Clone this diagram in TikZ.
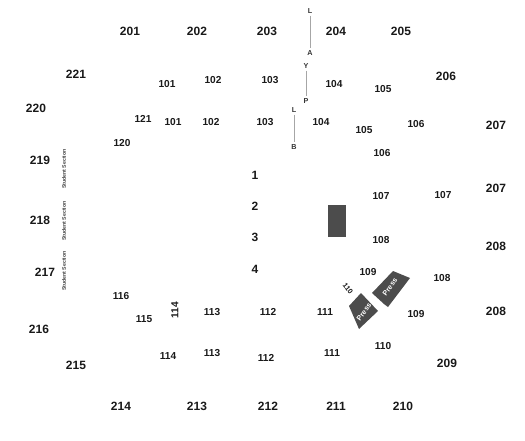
\documentclass[tikz,border=0pt]{standalone}
\usepackage{fontspec}
\setmainfont{Liberation Sans}
\tikzset{
  upper/.style={font=\bfseries\fontsize{9}{10}\selectfont, text=black!90, inner sep=0pt},
  lower/.style={font=\bfseries\fontsize{7.6}{9}\selectfont, text=black!90, inner sep=0pt},
  letter/.style={font=\bfseries\fontsize{5.4}{6}\selectfont, text=black!80, inner sep=1.4pt},
  student/.style={font=\bfseries\fontsize{3.9}{4}\selectfont, text=black!75, inner sep=0pt, rotate=90},
  press/.style={font=\bfseries\fontsize{5.4}{6}\selectfont, text=white, inner sep=0pt, rotate=54},
  block/.style={fill=black!70},
  aisle/.style={gray!70, line width=0.6pt}
}
\begin{document}
\begin{tikzpicture}[x=0.75pt, y=-0.75pt]
        \useasboundingbox (0,0) rectangle (525,440);
        % upper level
        \node[upper] (s201) at (130,31) {201};
        \node[upper] (s202) at (197,31) {202};
        \node[upper] (s203) at (267,31) {203};
        \node[upper] (s204) at (336,31) {204};
        \node[upper] (s205) at (401,31) {205};
        \node[upper] (s206) at (446,76) {206};
        \node[upper] (s207a) at (496,125) {207};
        \node[upper] (s207b) at (496,188) {207};
        \node[upper] (s208a) at (496,246) {208};
        \node[upper] (s208b) at (496,311) {208};
        \node[upper] (s209) at (447,363) {209};
        \node[upper] (s210) at (403,406) {210};
        \node[upper] (s211) at (336,406) {211};
        \node[upper] (s212) at (268,406) {212};
        \node[upper] (s213) at (197,406) {213};
        \node[upper] (s214) at (121,406) {214};
        \node[upper] (s215) at (76,365) {215};
        \node[upper] (s216) at (39,329) {216};
        \node[upper] (s217) at (45,272) {217};
        \node[upper] (s218) at (40,220) {218};
        \node[upper] (s219) at (40,160) {219};
        \node[upper] (s220) at (36,108) {220};
        \node[upper] (s221) at (76,74) {221};
        % lower level
        \node[lower] (r101a) at (167,84) {101};
        \node[lower] (r102a) at (213,80) {102};
        \node[lower] (r103a) at (270,80) {103};
        \node[lower] (r104a) at (334,84) {104};
        \node[lower] (r105a) at (383,89) {105};
        \node[lower] (r101b) at (173,122) {101};
        \node[lower] (r102b) at (211,122) {102};
        \node[lower] (r103b) at (265,122) {103};
        \node[lower] (r104b) at (321,122) {104};
        \node[lower] (r105b) at (364,130) {105};
        \node[lower] (r106a) at (416,124) {106};
        \node[lower] (r106b) at (382,153) {106};
        \node[lower] (r107a) at (381,196) {107};
        \node[lower] (r107b) at (443,195) {107};
        \node[lower] (r108a) at (381,240) {108};
        \node[lower] (r108b) at (442,278) {108};
        \node[lower] (r109a) at (368,272) {109};
        \node[lower] (r109b) at (416,314) {109};
        \node[lower] (r110a) at (383,346) {110};
        \node[lower, rotate=-52, font=\bfseries\fontsize{5.4}{6}\selectfont] (r110b) at (348,289) {110};
        \node[lower] (r111a) at (325,312) {111};
        \node[lower] (r111b) at (332,353) {111};
        \node[lower] (r112a) at (268,312) {112};
        \node[lower] (r112b) at (266,358) {112};
        \node[lower] (r113a) at (212,312) {113};
        \node[lower] (r113b) at (212,353) {113};
        \node[lower] (r114a) at (168,356) {114};
        \node[lower, rotate=90] (r114b) at (175,310) {114};
        \node[lower] (r115) at (144,319) {115};
        \node[lower] (r116) at (121,296) {116};
        \node[lower] (r120) at (122,143) {120};
        \node[lower] (r121) at (143,119) {121};
        % floor
        \node[upper] (f1) at (255,175) {1};
        \node[upper] (f2) at (255,206) {2};
        \node[upper] (f3) at (255,237) {3};
        \node[upper] (f4) at (255,269) {4};
        % aisles
        \node[letter] (la) at (310,11) {L};
        \node[letter] (aa) at (310,53) {A};
        \node[letter] (ya) at (306,66) {Y};
        \node[letter] (pa) at (306,101) {P};
        \node[letter] (lb) at (294,110) {L};
        \node[letter] (bb) at (294,147) {B};
        \draw[aisle] (la) -- (aa);
        \draw[aisle] (ya) -- (pa);
        \draw[aisle] (lb) -- (bb);
        % student sections
        \node[student] (st1) at (64,169) {Student Section};
        \node[student] (st2) at (64,221) {Student Section};
        \node[student] (st3) at (64,271) {Student Section};
        % stage and press
        \fill[block] (328,205) rectangle (346,237);
        \fill[block] (393,271) -- (410,278) -- (388,307) -- (384,304) -- (372,293) -- cycle;
        \fill[block] (361,293) -- (378,311) -- (359,329) -- (349,306) -- cycle;
        \node[press] (p1) at (390,287) {Press};
        \node[press] (p2) at (364,312) {Press};
      \end{tikzpicture}
\end{document}
